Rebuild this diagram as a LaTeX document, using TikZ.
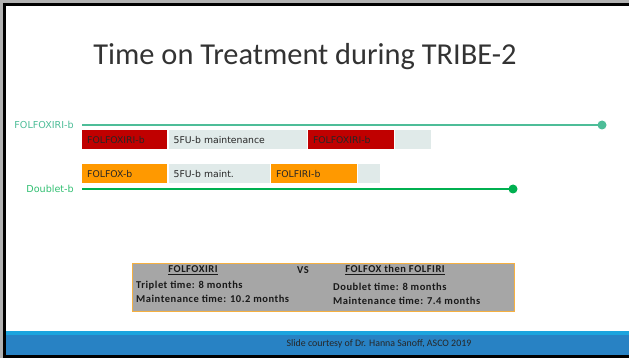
\documentclass[tikz,border=0pt]{standalone}
\usepackage{fontspec}
\setmainfont{Carlito}
\newfontfamily\verd{DejaVu Sans}
\newfontfamily\sumfont[LetterSpace=5]{Carlito}
\usetikzlibrary{positioning}
\definecolor{folred}{HTML}{C00000}
\definecolor{folorange}{HTML}{FF9900}
\definecolor{maintgrey}{HTML}{E0EAE9}
\definecolor{tripteal}{HTML}{4DBD98}
\definecolor{dubgreen}{HTML}{00B050}
\definecolor{sumgrey}{HTML}{A6A6A6}
\definecolor{sumedge}{HTML}{F5B041}
\definecolor{bandlight}{HTML}{1CA4DE}
\definecolor{banddark}{HTML}{2882C4}

\begin{document}
\begin{tikzpicture}[x=1pt, y=-1pt, node distance=0pt,
    phase/.style={anchor=north west, minimum height=19pt, inner xsep=5pt, inner ysep=0pt,
      text width=#1, align=left, font=\verd\fontsize{9.3}{10}\selectfont, text=black!85},
    armline/.style={line width=2.6pt},
    enddot/.style={circle, inner sep=0pt, minimum size=9pt},
    armlabel/.style={font=\verd\fontsize{9.6}{10}\selectfont, inner sep=0pt},
    sumtext/.style={font=\sumfont\bfseries\fontsize{10.5}{12}\selectfont, inner sep=0pt, text=black!90}]
    \useasboundingbox (0,0) rectangle (629,358);

    % slide frame
    \fill[black] (0,0) rectangle (629,358);
    \fill[white] (6,6) rectangle (629,355);
    \fill[gray!60] (0,0) rectangle (629,3);
    \fill[gray!60] (0,0) rectangle (3,358);

    \node[font=\fontsize{30.4}{34}\selectfont, inner sep=0pt, text=black!80] (title) at (305,57)
      {Time on Treatment during TRIBE-2};

    % triplet arm
    \coordinate (a0) at (82,125);
    \node[enddot, fill=tripteal] (a1) at (602,125) {};
    \draw[armline, tripteal] (a0) -- (a1.center);
    \node[armlabel, text=tripteal, left=8pt of a0] (alab) {FOLFOXIRI-b};

    \node[phase=75pt, fill=folred] (ox1) at (82,130) {FOLFOXIRI-b};
    \node[phase=128pt, fill=maintgrey, right=1pt of ox1] (mt1) {5FU-b maintenance};
    \node[phase=76pt, fill=folred, right=1pt of mt1] (ox2) {FOLFOXIRI-b};
    \node[phase=26pt, fill=maintgrey, right=1pt of ox2] (tl1) {};

    % doublet arm
    \node[phase=75pt, fill=folorange] (fx) at (82,164) {FOLFOX-b};
    \node[phase=91pt, fill=maintgrey, right=1pt of fx] (mt2) {5FU-b maint.};
    \node[phase=76pt, fill=folorange, right=1pt of mt2] (fi) {FOLFIRI-b};
    \node[phase=12pt, fill=maintgrey, right=1pt of fi] (tl2) {};

    \coordinate (b0) at (82,189);
    \node[enddot, fill=dubgreen] (b1) at (513,189) {};
    \draw[armline, dubgreen] (b0) -- (b1.center);
    \node[armlabel, text=dubgreen!80, left=8pt of b0] (blab) {Doublet-b};

    % summary
    \node[anchor=north west, fill=sumgrey, draw=sumedge, line width=1pt,
      minimum width=382pt, minimum height=48pt, inner sep=0pt] (sum) at (132,263) {};
    \node[sumtext] (h1) at (193,270) {\underline{FOLFOXIRI}};
    \node[sumtext] (vs) at (303,270) {VS};
    \node[sumtext] (h2) at (395,270) {\underline{FOLFOX then FOLFIRI}};
    \node[sumtext, anchor=west] (t1) at (136,286) {Triplet time: 8 months};
    \node[sumtext, anchor=west] (t2) at (136,299) {Maintenance time: 10.2 months};
    \node[sumtext, anchor=west] (d1) at (333,287) {Doublet time: 8 months};
    \node[sumtext, anchor=west] (d2) at (333,301) {Maintenance time: 7.4 months};

    % footer band
    \fill[bandlight] (6,331) rectangle (629,335);
    \fill[banddark] (6,335) rectangle (629,355);
    \node[font=\fontsize{9.9}{11}\selectfont, inner sep=0pt, text=black!85] (credit) at (379,344)
      {Slide courtesy of Dr. Hanna Sanoff, ASCO 2019};
\end{tikzpicture}
\end{document}
